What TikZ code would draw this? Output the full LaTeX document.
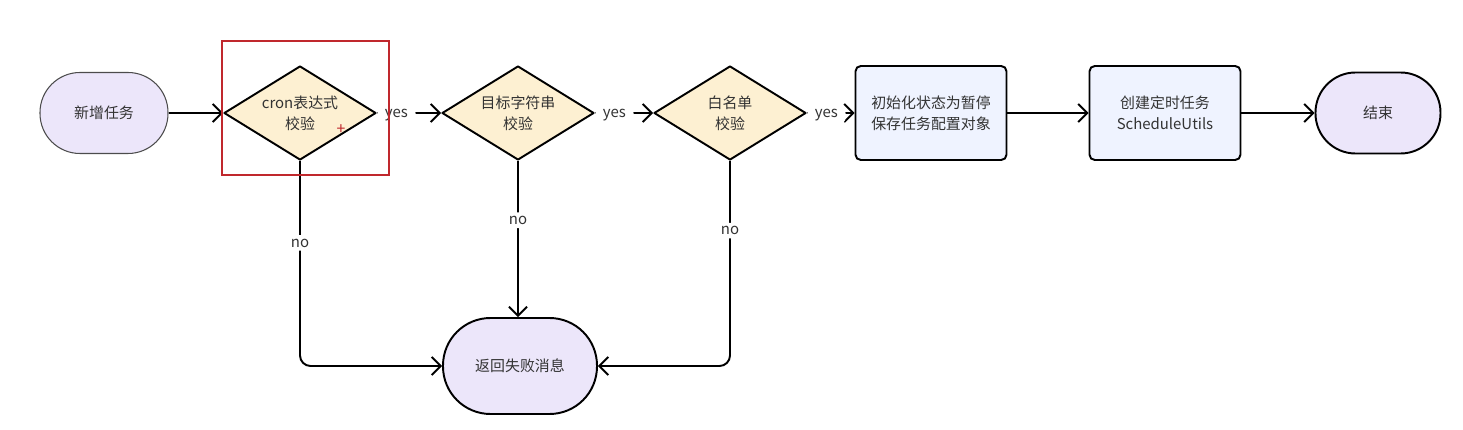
\documentclass[tikz,border=0pt]{standalone}
\usepackage{fontspec}
\setmainfont{Noto Sans CJK SC}
\usepackage{tikz}
\usetikzlibrary{arrows.meta, positioning, shapes.geometric}

\definecolor{termfill}{HTML}{ECE6FA}
\definecolor{checkfill}{HTML}{FDF0D2}
\definecolor{taskfill}{HTML}{EFF3FF}
\definecolor{textgray}{HTML}{333333}
\definecolor{markred}{HTML}{C0282D}

\begin{document}
\begin{tikzpicture}[
    font=\fontsize{8.5}{12}\selectfont, text=textgray,
    terminal/.style={draw, line width=1.1pt, fill=termfill, rounded corners=0.8cm, minimum width=2.5cm, minimum height=1.62cm, align=center},
    check/.style={diamond, draw, line width=1.1pt, line join=round, fill=checkfill, aspect=1.62, minimum width=3.04cm, minimum height=1.88cm, inner sep=0pt, align=center},
    task/.style={draw, line width=1.1pt, fill=taskfill, rounded corners=3pt, minimum width=3.02cm, minimum height=1.88cm, align=center},
    flow/.style={-{Straight Barb[length=1.8mm, width=3.6mm]}, line width=1.1pt, rounded corners=6pt},
    lbl/.style={fill=white, inner sep=2pt},
    yeslbl/.style={fill=white, pos=0, anchor=mid west, xshift=-0.5pt, inner xsep=4.5pt, inner ysep=3pt}
]
    \useasboundingbox (0,0) rectangle (29.26,8.6);

    % main row
    \node[terminal, draw=black!70, line width=0.6pt, minimum width=2.56cm] (start) at (2.08,6.34) {新增任务};
    \node[check] (cron) at (6.0,6.34) {cron表达式\\校验};
    \node[check] (target) at (10.36,6.34) {目标字符串\\校验};
    \node[check] (white) at (14.6,6.34) {白名单\\校验};
    \node[task] (save) at (18.62,6.34) {初始化状态为暂停\\保存任务配置对象};
    \node[task] (sched) at (23.3,6.34) {创建定时任务\\ScheduleUtils};
    \node[terminal] (finish) at (27.56,6.34) {结束};
    \node[terminal, rounded corners=0.95cm, minimum width=3.08cm, minimum height=1.92cm] (fail) at (10.4,1.28) {返回失败消息};

    \draw[flow] (start) -- (cron);
    \draw[flow] (cron.east) -- node[yeslbl] {yes} (target.west);
    \draw[flow] (target.east) -- node[yeslbl] {yes} (white.west);
    \draw[flow] (white.east) -- node[yeslbl] {yes} (save.west);
    \draw[flow] (save) -- (sched);
    \draw[flow] (sched) -- (finish);

    % failure branches
    \draw[flow] (cron.south) |- node[lbl, pos=0.2] {no} (fail.west);
    \draw[flow] (target.south) -- node[lbl, pos=0.38] {no} (target.south |- fail.north);
    \draw[flow] (white.south) |- node[lbl, pos=0.17] {no} (fail.east);

    % selection mark
    \draw[markred, line width=1.1pt] (4.44,7.78) rectangle (7.78,5.1);
    \node[text=markred, font=\fontsize{9}{9}\selectfont, inner sep=0pt] (cursor) at (6.82,6.0) {+};
\end{tikzpicture}
\end{document}
